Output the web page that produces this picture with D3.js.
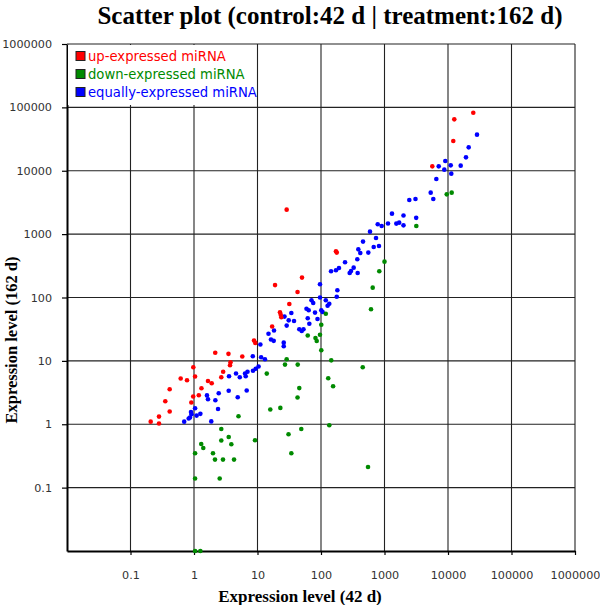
<!DOCTYPE html>
<html><head><meta charset="utf-8">
<script src="https://cdn.jsdelivr.net/npm/d3@7"></script>
<style>body{margin:0;background:#fff}svg{display:block}</style>
</head><body>
<svg id="chart" width="600" height="605"></svg>
<script>
// ---- data ----
const titleText = "Scatter plot (control:42 d | treatment:162 d)";
const xLabel = "Expression level (42 d)";
const yLabel = "Expression level (162 d)";
const tickValues = [0.1, 1, 10, 100, 1000, 10000, 100000, 1000000];
const tickLabels = ["0.1", "1", "10", "100", "1000", "10000", "100000", "1000000"];
const seriesNames = ["up-expressed miRNA", "down-expressed miRNA", "equally-expressed miRNA"];

const upX = [0.208,0.281,0.281,0.353,0.414,0.414,0.617,0.776,0.975,1.04,0.971,0.907,1.19,1.31,1.66,1.90,2.16,2.69,2.88,3.49,3.76,3.69,5.76,8.81,9.23,17.0,22.6,23.2,23.7,31.7,42.7,18.9,50.2,28.8,172,177,5660,12110,12560,25010];
const upY = [1.10,1.32,1.03,2.31,3.56,1.59,5.26,4.94,7.93,5.67,2.74,2.20,2.87,3.70,4.82,4.43,13.4,5.51,6.73,12.9,9.50,8.53,11.7,21.0,19.2,34.8,58.4,53.3,48.7,78.9,122,157,206,2434,535,511,11730,29430,64700,82460];

const downX = [1.04,1.26,1.04,1.04,1.30,1.40,1.99,2.14,2.54,2.69,2.69,2.86,3.52,3.87,4.27,5.02,9.14,14.0,15.9,22.9,27.1,28.8,43.0,45.5,42.7,30.8,34.1,48.9,61.8,81.9,85.6,96.4,101,119,101,145,130,155,135,550,454,613,652,828,1000,3170,9550,11430];
const downY = [0.01,0.01,0.139,0.349,0.489,0.423,0.349,0.277,0.139,0.843,0.553,0.277,0.630,0.484,0.277,1.34,0.560,6.30,1.71,1.81,8.74,10.6,8.74,3.72,2.65,0.695,0.349,0.843,25.1,22.9,20.6,25.8,37.1,55.3,14.7,10.2,5.32,3.98,0.965,0.212,7.93,65.2,143,259,368,1343,4246,4515];

const equalX = [0.701,0.825,0.865,0.913,0.897,1.04,1.10,1.26,1.60,1.66,1.87,2.17,2.39,2.45,3.52,3.56,4.59,4.88,5.26,6.36,6.52,6.96,6.76,8.49,9.37,10.4,8.43,11.4,13.1,11.1,14.9,18.2,16.3,18.0,25.9,25.9,26.6,28.8,31.0,34.1,37.6,45.5,49.7,53.0,61.8,65.5,59.1,64.0,80.5,88.1,70.8,75.4,96.4,101,106,119,127,135,96.4,177,181,144,172,192,239,283,297,327,378,373,387,416,459,556,676,735,819,591,782,903,1135,1312,1535,1703,1991,1991,3155,2459,3077,5341,5871,6548,7141,9066,8746,11040,11270,15850,19190,21180,28620];
const equalY = [1.10,1.23,1.28,1.44,1.56,1.79,1.37,1.46,2.85,2.48,1.11,2.39,1.74,3.08,3.38,5.71,6.31,2.67,5.51,6.31,5.71,6.73,3.40,6.98,7.50,8.13,11.8,11.4,10.6,18.1,26.8,30.2,21.7,20.7,19.4,17.0,50.0,36.0,43.6,57.0,42.6,31.5,29.6,31.5,47.0,38.5,66.3,62.8,57.8,45.8,90.3,81.9,100,62.8,58.9,90.3,74.0,79.6,162,103,130,259,269,292,359,243,262,296,243,401,575,503,762,511,626,868,649,1095,1428,1343,1469,2105,1465,1518,1965,1376,1807,3451,3580,4516,3580,7396,11730,14220,10400,12170,8995,12030,16260,23390,37100];

// ---- layout ----
const L = 67, R = 575, T = 44, B = 551;
const colors = ["#ff0000", "#008a00", "#0000ff"];
const svg = d3.select("#chart");

const x = d3.scaleLog().domain([0.01, 1e6]).range([L, R]);
const y = d3.scaleLog().domain([0.01, 1e6]).range([B, T]);
const fmt = d => tickLabels[tickValues.indexOf(d)];

// grid
const grid = svg.append("g").attr("stroke", "#222").attr("stroke-width", 1.1);
grid.selectAll("line.v").data(tickValues).enter().append("line")
  .attr("x1", d => x(d)).attr("x2", d => x(d)).attr("y1", T).attr("y2", B);
grid.selectAll("line.h").data(tickValues).enter().append("line")
  .attr("x1", L).attr("x2", R).attr("y1", d => y(d)).attr("y2", d => y(d));

// axes
const xAxis = svg.append("g").attr("transform", `translate(0,${B})`)
  .call(d3.axisBottom(x).tickValues(tickValues).tickFormat(fmt).tickSize(4).tickSizeOuter(0).tickPadding(16));
const yAxis = svg.append("g").attr("transform", `translate(${L},0)`)
  .call(d3.axisLeft(y).tickValues(tickValues).tickFormat(fmt).tickSize(5).tickSizeOuter(0).tickPadding(10));
[xAxis, yAxis].forEach(a => {
  a.select(".domain").attr("stroke", "#000").attr("stroke-width", 2);
  a.selectAll(".tick line").attr("stroke", "#000").attr("stroke-width", 1.2);
  a.selectAll(".tick text").attr("font-family", "DejaVu Sans, sans-serif").attr("font-size", 11.2).attr("fill", "#333");
});

// legend
const lg = svg.append("g");
lg.append("rect").attr("x", L + 1).attr("y", T + 1).attr("width", 188).attr("height", 60).attr("fill", "#fff");
seriesNames.forEach((s, i) => {
  const cy = 56 + i * 18;
  lg.append("rect").attr("x", 76).attr("y", cy - 4.5).attr("width", 9).attr("height", 9)
    .attr("fill", colors[i]).attr("stroke", "#222").attr("stroke-width", 1);
  lg.append("text").attr("x", 88).attr("y", cy + 4.5).text(s)
    .attr("font-family", "DejaVu Sans, sans-serif").attr("font-size", 13.2).attr("fill", colors[i]);
});

// points
const series = [
  {xs: equalX, ys: equalY, c: colors[2]},
  {xs: upX, ys: upY, c: colors[0]},
  {xs: downX, ys: downY, c: colors[1]}
];
series.forEach(s => {
  svg.append("g").selectAll("circle").data(s.xs.map((v, i) => [v, s.ys[i]])).enter().append("circle")
    .attr("cx", d => x(d[0])).attr("cy", d => y(d[1])).attr("r", 2.3).attr("fill", s.c);
});

// titles
svg.append("text").attr("x", 330).attr("y", 24).attr("text-anchor", "middle")
  .attr("font-family", "Liberation Serif, serif").attr("font-weight", "bold").attr("font-size", 25)
  .text(titleText);
svg.append("text").attr("x", 300).attr("y", 602).attr("text-anchor", "middle")
  .attr("font-family", "Liberation Serif, serif").attr("font-weight", "bold").attr("font-size", 17)
  .text(xLabel);
svg.append("text").attr("transform", "translate(17,340) rotate(-90)").attr("text-anchor", "middle")
  .attr("font-family", "Liberation Serif, serif").attr("font-weight", "bold").attr("font-size", 16.5)
  .text(yLabel);
</script>
</body></html>
